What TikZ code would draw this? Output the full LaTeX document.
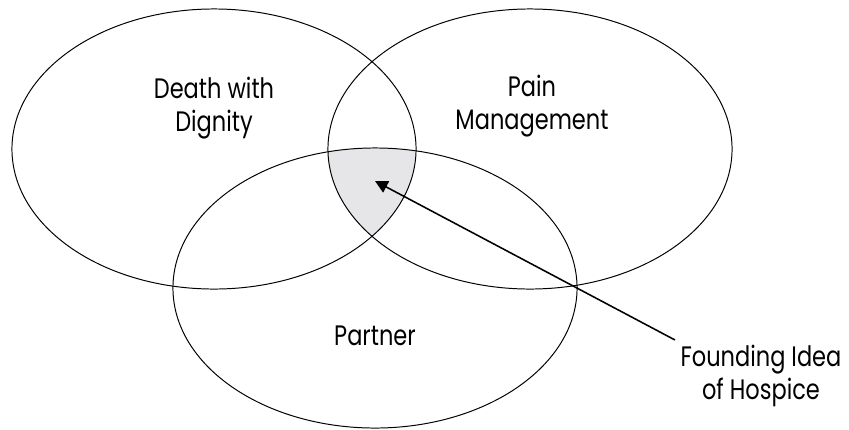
\documentclass[tikz,border=0pt]{standalone}
\usepackage{fontspec}
\setmainfont{Poppins}[FakeStretch=0.8]
\usetikzlibrary{arrows.meta}
\definecolor{overlap}{HTML}{E6E6E8}
\tikzset{
  ring/.style={line width=0.7pt},
  ringlabel/.style={align=center, inner sep=0pt, font=\fontsize{20}{23.5}\selectfont},
}

\begin{document}
\begin{tikzpicture}[x=0.025cm, y=-0.025cm]
      \useasboundingbox (0,0) rectangle (849,429);

      % Shaded core shared by all three
      \begin{scope}
        \clip (214,149) ellipse [x radius=5.05cm, y radius=3.5cm];
        \clip (530,149) ellipse [x radius=5.05cm, y radius=3.5cm];
        \fill[overlap] (375,288) ellipse [x radius=5.05cm, y radius=3.5cm];
      \end{scope}

      % Ellipse for Death with Dignity
      \draw[ring] (214,149) ellipse [x radius=5.05cm, y radius=3.5cm];
      \node[ringlabel] (dignity) at (214,108) {Death with\\Dignity};

      % Ellipse for Pain Management
      \draw[ring] (530,149) ellipse [x radius=5.05cm, y radius=3.5cm];
      \node[ringlabel] (pain) at (532,106) {Pain\\Management};

      % Ellipse for Partner
      \draw[ring] (375,288) ellipse [x radius=5.05cm, y radius=3.5cm];
      \node[ringlabel] (partner) at (375,336) {Partner};

      % Pointer to the core
      \node[ringlabel] (idea) at (761,376) {Founding Idea\\of Hospice};
      \coordinate (tail) at (675,340);
      \coordinate (core) at (375,181);
      \draw[line width=1.1pt, -{Triangle[length=9pt, width=9pt]}] (tail) -- (core);
\end{tikzpicture}
\end{document}
